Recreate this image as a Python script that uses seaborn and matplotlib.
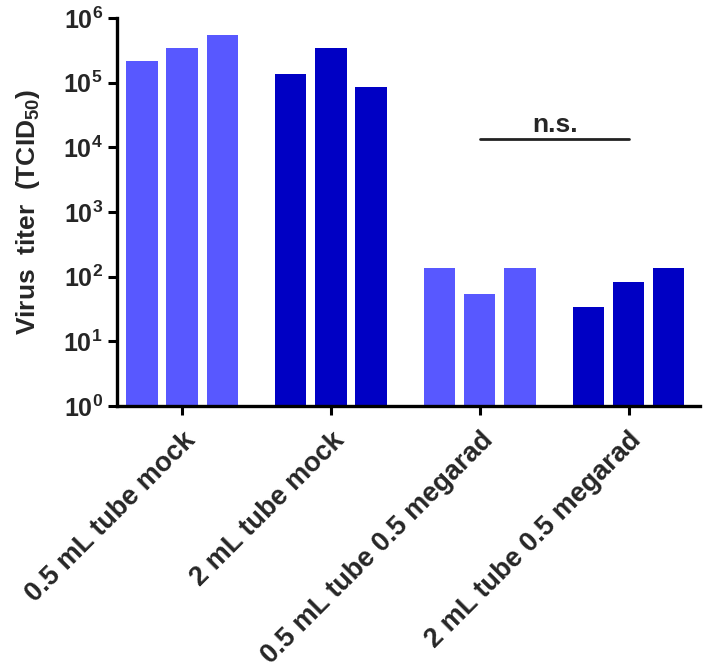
import matplotlib
matplotlib.use("Agg")
import matplotlib.pyplot as plt
import matplotlib.transforms as mtransforms
import numpy as np
import pandas as pd
import seaborn as sns

# values (TCID50, log scale)
groups = ["0.5 mL tube mock", "2 mL tube mock",
          "0.5 mL tube 0.5 megarad", "2 mL tube 0.5 megarad"]
rep1 = [2.15e5, 1.36e5, 134, 34]
rep2 = [3.4e5, 3.4e5, 54, 83]
rep3 = [5.4e5, 8.6e4, 134, 134]
group_colors = ["#5858FF", "#0000C4", "#5858FF", "#0000C4"]

rows = []
for i, g in enumerate(groups):
    for r, vals in zip(["r1", "r2", "r3"], [rep1, rep2, rep3]):
        rows.append({"group": g, "rep": r, "titer": vals[i]})
df = pd.DataFrame(rows)

sns.set_style("ticks")
plt.rcParams["font.family"] = ["Liberation Sans", "DejaVu Sans"]
plt.rcParams["font.weight"] = "bold"
plt.rcParams["mathtext.fontset"] = "custom"
plt.rcParams["mathtext.rm"] = "Liberation Sans:bold"
plt.rcParams["mathtext.bf"] = "Liberation Sans:bold"
plt.rcParams["mathtext.it"] = "Liberation Sans:bold:italic"

fig = plt.figure(figsize=(7.07, 6.71), dpi=100)
ax = fig.add_axes([0.165, 0.395, 0.825, 0.578])

sns.barplot(data=df, x="group", y="titer", hue="rep", order=groups,
            palette=["#5858FF"] * 3, width=0.81, gap=0.22, legend=False,
            linewidth=0, ax=ax)

# recolour bars by group
for p in ax.patches:
    gi = int(round(p.get_x() + p.get_width() / 2))
    p.set_facecolor(group_colors[gi])
    p.set_edgecolor("none")

ax.set_yscale("log")
ax.set_ylim(1, 1e6)
ax.set_xlim(-0.44, 3.48)
ax.set_yticks([10.0 ** k for k in range(7)])
ax.set_yticklabels([r"$\mathrm{10^{%d}}$" % k for k in range(7)], fontsize=18)
ax.yaxis.set_minor_locator(matplotlib.ticker.NullLocator())

ax.set_xticks(range(len(groups)))
ax.set_xticklabels(groups, rotation=45, ha="right", va="top",
                   rotation_mode="anchor", fontsize=19.5, fontweight="bold")
ax.tick_params(axis="x", pad=9)
shift = mtransforms.ScaledTranslation(8 / 100, 0, fig.dpi_scale_trans)
for lab in ax.get_xticklabels():
    lab.set_transform(lab.get_transform() + shift)

ax.set_xlabel("")
ax.set_ylabel(r"Virus  titer  (TCID$_{50}$)", fontsize=19, fontweight="bold",
              labelpad=15)

sns.despine(ax=ax)
for s in ["left", "bottom"]:
    ax.spines[s].set_linewidth(2.4)
    ax.spines[s].set_color("black")
ax.tick_params(axis="both", width=2.2, length=6.5, color="black", direction="out")

# significance bar
ax.plot([2.0, 3.0], [1.37e4, 1.37e4], color="#222222", lw=2)
ax.text(2.507, 1.74e4, "n.s.", ha="center", va="baseline", fontsize=19,
        fontweight="bold")

fig.savefig("out.png", dpi=100)
